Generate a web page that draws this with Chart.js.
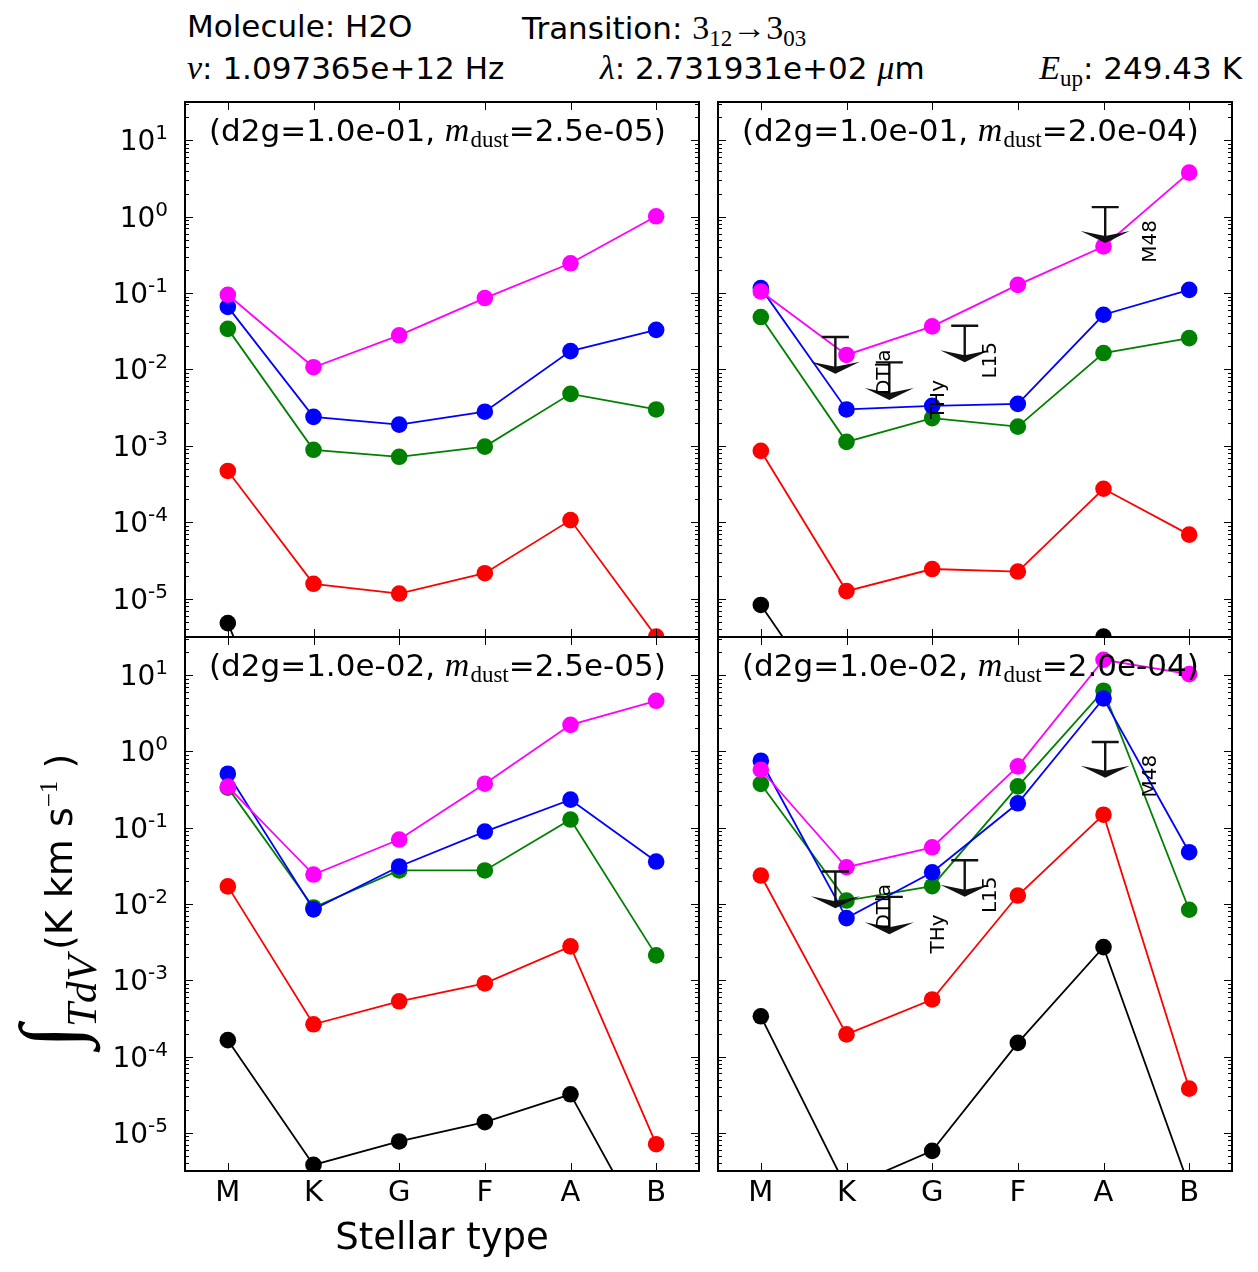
<!DOCTYPE html>
<html>
<head>
<meta charset="utf-8">
<script src="https://cdn.jsdelivr.net/npm/chart.js@4.4.0/dist/chart.umd.min.js"></script>
<style>
  body { margin: 0; background: #fff; width: 1258px; height: 1272px; position: relative; overflow: hidden;
         font-family: 'DejaVu Sans', sans-serif; color: #000; }
  canvas { position: absolute; }
  .txt { position: absolute; white-space: nowrap; font-size: 31px; line-height: 1; }
  .mi { font-family: 'Liberation Serif', serif; font-style: italic; font-size: 34px; }
  .mr { font-family: 'Liberation Serif', serif; font-size: 34px; }
  .sub { position: relative; top: 7px; font-size: 23px; }
</style>
</head>
<body>

<div class="txt" style="left:187px; top:11px;">Molecule: H2O</div>
<div class="txt" style="left:522px; top:11px;">Transition: <span class="mr">3<span class="sub">12</span>→3<span class="sub">03</span></span></div>
<div class="txt" style="left:187px; top:51px;"><span class="mi">ν</span>: 1.097365e+12 Hz</div>
<div class="txt" style="left:600px; top:51px;"><span class="mi">λ</span>: 2.731931e+02 <span class="mi">μ</span>m</div>
<div class="txt" style="right:16px; top:51px;"><span class="mi">E</span><span class="mr sub">up</span>: 249.43 K</div>

<canvas id="c1" width="712" height="570" style="left:0px; top:80px;"></canvas>
<canvas id="c2" width="540" height="570" style="left:705px; top:80px;"></canvas>
<canvas id="c3" width="712" height="655" style="left:0px; top:617px;"></canvas>
<canvas id="c4" width="540" height="655" style="left:705px; top:617px;"></canvas>

<div class="txt" style="left:442px; top:1218px; font-size:37px; transform:translateX(-50%);">Stellar type</div>

<script>
// stellar types on the x axis
const stellarTypes = ['M', 'K', 'G', 'F', 'A', 'B'];
const yTickValues = [1e-5, 1e-4, 1e-3, 1e-2, 1e-1, 1e0, 1e1];
const yTickExps = ['-5', '-4', '-3', '-2', '-1', '0', '1'];
const yMin = 3.16e-6;
const yMax = 31.6;

// panel titles
const panelD2g = ['1.0e-01', '1.0e-01', '1.0e-02', '1.0e-02'];
const panelMdust = ['2.5e-05', '2.0e-04', '2.5e-05', '2.0e-04'];

// top left: d2g=1.0e-01, m_dust=2.5e-05
const p1Black = [4.8e-6, 1.0e-8, 3.0e-9, 5.0e-9, 2.0e-8, 1.0e-10];
const p1Red = [4.7e-4, 1.57e-5, 1.17e-5, 2.16e-5, 1.07e-4, 3.2e-6];
const p1Green = [0.034, 8.9e-4, 7.2e-4, 9.8e-4, 4.8e-3, 3.0e-3];
const p1Blue = [0.066, 2.4e-3, 1.9e-3, 2.8e-3, 0.0174, 0.033];
const p1Magenta = [0.095, 0.0107, 0.028, 0.086, 0.245, 1.01];

// top right: d2g=1.0e-01, m_dust=2.0e-04
const p2Black = [8.3e-6, 1.9e-7, 5.0e-8, 1.0e-7, 3.2e-6, 1.0e-8];
const p2Red = [8.6e-4, 1.26e-5, 2.45e-5, 2.27e-5, 2.75e-4, 6.9e-5];
const p2Green = [0.0485, 1.13e-3, 2.31e-3, 1.79e-3, 0.0164, 0.0257];
const p2Blue = [0.116, 3.0e-3, 3.35e-3, 3.55e-3, 0.052, 0.110];
const p2Magenta = [0.105, 0.0155, 0.0366, 0.128, 0.407, 3.76];

// bottom left: d2g=1.0e-02, m_dust=2.5e-05
const p3Black = [1.64e-4, 3.8e-6, 7.7e-6, 1.38e-5, 3.2e-5, 2.9e-7];
const p3Red = [0.017, 2.65e-4, 5.3e-4, 9.1e-4, 2.78e-3, 7.1e-6];
const p3Green = [0.335, 9.0e-3, 0.0275, 0.0275, 0.128, 2.12e-3];
const p3Blue = [0.51, 8.5e-3, 0.031, 0.089, 0.233, 0.036];
const p3Magenta = [0.345, 0.0243, 0.070, 0.377, 2.23, 4.61];

// bottom right: d2g=1.0e-02, m_dust=2.0e-04
const p4Black = [3.37e-4, 1.9e-6, 5.8e-6, 1.51e-4, 2.72e-3, 2.0e-6];
const p4Red = [0.0236, 1.95e-4, 5.6e-4, 0.0129, 0.148, 3.8e-5];
const p4Green = [0.374, 0.0111, 0.0171, 0.348, 6.24, 8.4e-3];
const p4Blue = [0.755, 6.53e-3, 0.026, 0.209, 4.94, 0.0477];
const p4Magenta = [0.575, 0.0303, 0.0553, 0.637, 15.9, 10.3];

// observed upper limits (right panels)
const limitX = [0.87, 1.50, 2.38, 4.02];
const limitTop = [0.0266, 0.0124, 0.0374, 1.33];
const limitTip = [0.0088, 0.0040, 0.0124, 0.45];
const limitNames = ['THy', 'DTla', 'L15', 'M48'];
const limitNameX = [2.08, 1.445, 2.69, 4.55];
const limitNameY = [0.00404, 0.00918, 0.0132, 0.473];

const colors = ['#000000', '#ff0000', '#008000', '#0000ff', '#ff00ff'];

function toPoints(arr) {
    return arr.map((v, i) => ({ x: i, y: v }));
}

// draw a run of text pieces [font, text, dy, extra gap] starting at x along the baseline y
function drawPieces(ctx, parts, x, y) {
    parts.forEach(p => {
        ctx.font = p[0];
        ctx.fillText(p[1], x, y + p[2]);
        x += ctx.measureText(p[1]).width + (p[3] || 0);
    });
    return x;
}
function piecesWidth(ctx, parts) {
    let w = 0;
    parts.forEach(p => { ctx.font = p[0]; w += ctx.measureText(p[1]).width + (p[3] || 0); });
    return w;
}

// frame, inward ticks, tick labels, panel label and upper limits
const panelDecor = {
    id: 'panelDecor',
    afterDatasetsDraw(chart, args, opts) {
        const ctx = chart.ctx;
        const a = chart.chartArea;
        const xs = chart.scales.x;
        const ys = chart.scales.y;
        ctx.save();

        // upper limit arrows
        if (opts.limits) {
            ctx.fillStyle = '#111';
            ctx.strokeStyle = '#111';
            limitX.forEach((lx, i) => {
                const px = xs.getPixelForValue(lx);
                const pt = ys.getPixelForValue(limitTop[i]);
                const pb = ys.getPixelForValue(limitTip[i]);
                ctx.lineWidth = 2.4;
                ctx.beginPath();
                ctx.moveTo(px - 13.5, pt);
                ctx.lineTo(px + 13.5, pt);
                ctx.moveTo(px, pt);
                ctx.lineTo(px, pb - 5);
                ctx.stroke();
                ctx.beginPath();
                ctx.moveTo(px, pb);
                ctx.lineTo(px - 24.5, pb - 12);
                ctx.lineTo(px, pb - 7);
                ctx.lineTo(px + 24.5, pb - 12);
                ctx.closePath();
                ctx.fill();
            });
            ctx.fillStyle = '#000';
            ctx.font = '20px "DejaVu Sans"';
            ctx.textAlign = 'center';
            ctx.textBaseline = 'middle';
            limitNames.forEach((name, i) => {
                ctx.save();
                ctx.translate(xs.getPixelForValue(limitNameX[i]), ys.getPixelForValue(limitNameY[i]));
                ctx.rotate(-Math.PI / 2);
                ctx.fillText(name, 0, 0);
                ctx.restore();
            });
        }

        // ticks
        ctx.strokeStyle = '#000';
        ctx.lineWidth = 1;
        ctx.beginPath();
        for (let e = -6; e <= 1; e++) {
            for (let m = 1; m < 10; m++) {
                const py = Math.round(ys.getPixelForValue(m * Math.pow(10, e))) + 0.5;
                if (py < a.top || py > a.bottom) continue;
                const len = m === 1 ? 8 : 4;
                ctx.moveTo(a.left, py); ctx.lineTo(a.left + len, py);
                ctx.moveTo(a.right, py); ctx.lineTo(a.right - len, py);
            }
        }
        stellarTypes.forEach((s, i) => {
            const px = Math.round(xs.getPixelForValue(i)) + 0.5;
            ctx.moveTo(px, a.top); ctx.lineTo(px, a.top + 8);
            ctx.moveTo(px, a.bottom); ctx.lineTo(px, a.bottom - 8);
        });
        ctx.stroke();

        // frame
        ctx.lineWidth = 2;
        ctx.strokeRect(a.left, a.top, a.right - a.left, a.bottom - a.top);

        ctx.fillStyle = '#000';
        ctx.textAlign = 'left';
        ctx.textBaseline = 'alphabetic';

        // y tick labels 10^n on the left panels
        if (opts.yLabels) {
            yTickValues.forEach((v, i) => {
                const py = ys.getPixelForValue(v);
                const parts = [['28px "DejaVu Sans"', '10', 0], ['20px "DejaVu Sans"', yTickExps[i], -11]];
                const w = piecesWidth(ctx, parts);
                drawPieces(ctx, parts, a.left - 17 - w, py + 10);
            });
        }

        // panel label: (d2g=..., m_dust=...)
        drawPieces(ctx, [
            ['31px "DejaVu Sans"', '(d2g=' + panelD2g[opts.idx] + ', ', 0],
            ['italic 34px "Liberation Serif"', 'm', 0, 1],
            ['23px "Liberation Serif"', 'dust', 6],
            ['31px "DejaVu Sans"', '=' + panelMdust[opts.idx] + ')', 0]
        ], a.left + 24, a.top + 39);

        // y axis label of the lower left panel, written bottom to top
        if (opts.yTitle) {
            ctx.save();
            ctx.translate(72, 1048 - 617);
            ctx.rotate(-Math.PI / 2);
            ctx.font = 'italic 84px "Liberation Serif"';
            ctx.fillText('∫', 0, 6);
            ctx.font = 'italic 43px "Liberation Serif"';
            ctx.fillText('TdV', 21, 24);
            drawPieces(ctx, [
                ['38px "DejaVu Sans"', '(K km s', 0],
                ['25px "Liberation Serif"', '−1', -15],
                ['38px "DejaVu Sans"', ' )', 0]
            ], 98, 0);
            ctx.restore();
        }
        ctx.restore();
    }
};

function makePanel(canvasId, idx, series, showY, showX, pad) {
    const names = ['black', 'red', 'green', 'blue', 'magenta'];
    const datasets = series.map((s, i) => ({
        label: names[i],
        data: toPoints(s),
        borderColor: colors[i],
        backgroundColor: colors[i],
        pointBackgroundColor: colors[i],
        pointBorderWidth: 0,
        pointRadius: 8.3,
        borderWidth: 1.8,
        tension: 0,
        clip: 0,
        order: 5 - i
    }));
    return new Chart(document.getElementById(canvasId), {
        type: 'line',
        data: { datasets: datasets },
        options: {
            responsive: false,
            animation: false,
            events: [],
            layout: { padding: pad },
            plugins: {
                legend: { display: false },
                tooltip: { enabled: false },
                panelDecor: { idx: idx, limits: idx === 1 || idx === 3, yLabels: showY, yTitle: idx === 2 }
            },
            scales: {
                x: {
                    type: 'linear',
                    min: -0.5,
                    max: 5.5,
                    display: showX,
                    grid: { display: false, drawTicks: false },
                    border: { display: false },
                    ticks: {
                        autoSkip: false,
                        padding: 5,
                        color: '#000',
                        font: { family: 'DejaVu Sans', size: 29 },
                        callback: v => stellarTypes[v]
                    },
                    afterBuildTicks: sc => { sc.ticks = stellarTypes.map((s, i) => ({ value: i })); },
                    afterFit: sc => { sc.height = showX ? 50 : 0; sc.paddingLeft = 0; sc.paddingRight = 0; }
                },
                y: {
                    type: 'logarithmic',
                    min: yMin,
                    max: yMax,
                    display: false,
                    afterBuildTicks: sc => { sc.ticks = yTickValues.map(v => ({ value: v })); }
                }
            }
        },
        plugins: [panelDecor]
    });
}

makePanel('c1', 0, [p1Black, p1Red, p1Green, p1Blue, p1Magenta], true, false, { left: 185, top: 22, right: 13, bottom: 13 });
makePanel('c2', 1, [p2Black, p2Red, p2Green, p2Blue, p2Magenta], false, false, { left: 13, top: 22, right: 13, bottom: 13 });
makePanel('c3', 2, [p3Black, p3Red, p3Green, p3Blue, p3Magenta], true, true, { left: 185, top: 20, right: 13, bottom: 51 });
makePanel('c4', 3, [p4Black, p4Red, p4Green, p4Blue, p4Magenta], false, true, { left: 13, top: 20, right: 13, bottom: 51 });
</script>
</body>
</html>
